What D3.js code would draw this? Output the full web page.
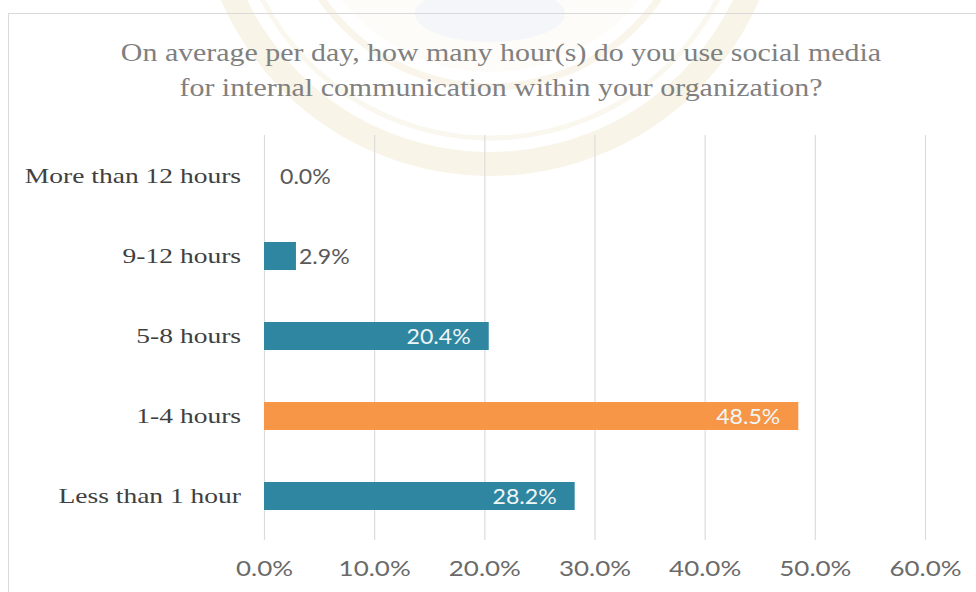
<!DOCTYPE html>
<html>
<head>
<meta charset="utf-8">
<script src="https://cdn.jsdelivr.net/npm/d3@7/dist/d3.min.js"></script>
<style>
  html, body { margin: 0; padding: 0; background: #ffffff; }
  svg { display: block; }
</style>
</head>
<body>
<svg id="chart" width="976" height="592"></svg>
<script>
// Survey answers, top to bottom
const categories = ["More than 12 hours", "9-12 hours", "5-8 hours", "1-4 hours", "Less than 1 hour"];
const shares = [0.0, 2.9, 20.4, 48.5, 28.2];
const highlighted = ["1-4 hours"];
const tickValues = [0, 10, 20, 30, 40, 50, 60];
const titleLines = [
  "On average per day, how many hour(s) do you use social media",
  "for internal communication within your organization?"
];

const W = 976, H = 592;
const svg = d3.select("#chart");

// Widen glyphs horizontally by a factor, keeping their height
function widen(sel, factor) {
  sel.each(function () {
    const len = this.getComputedTextLength();
    d3.select(this).attr("textLength", len * factor).attr("lengthAdjust", "spacingAndGlyphs");
  });
}

// Faint seal in the background
const seal = svg.append("g").attr("transform", "translate(490,-118)").attr("opacity", 0.38);
seal.append("circle").attr("r", 282).attr("fill", "none")
  .attr("stroke", "#eee3c2").attr("stroke-width", 24);
seal.append("circle").attr("r", 256).attr("fill", "none")
  .attr("stroke", "#f3ebd3").attr("stroke-width", 5);
seal.append("circle").attr("r", 205).attr("fill", "none")
  .attr("stroke", "#f0e7cc").attr("stroke-width", 7);
seal.append("circle").attr("r", 190).attr("fill", "#fbf8ee");
seal.append("ellipse").attr("cx", 0).attr("cy", 132).attr("rx", 75).attr("ry", 28)
  .attr("fill", "#e4e9f2");

// Chart panel outline
svg.append("rect").attr("x", 8.5).attr("y", 13.5).attr("width", W + 20).attr("height", H + 20)
  .attr("fill", "none").attr("stroke", "#d9d9d9").attr("stroke-width", 1);

const margin = { left: 264, right: 51, top: 136, bottom: 52 };
const x = d3.scaleLinear().domain([0, 60]).range([margin.left, W - margin.right]);
const y = d3.scaleBand().domain(categories).range([136, 536]).paddingInner(0.65).paddingOuter(0.325);

// Title
const title = svg.append("g")
  .attr("font-family", "'Liberation Serif', 'Times New Roman', serif")
  .attr("font-size", 26)
  .attr("fill", "#808080")
  .attr("text-anchor", "middle");
title.selectAll("text").data(titleLines).join("text")
  .attr("x", 501).attr("y", (d, i) => 61 + i * 35)
  .text(d => d)
  .call(widen, 1.15);

// Vertical gridlines
svg.append("g").selectAll("line").data(tickValues).join("line")
  .attr("x1", d => x(d) + 0.5).attr("x2", d => x(d) + 0.5)
  .attr("y1", 135).attr("y2", 540)
  .attr("stroke", "#dcdcdc").attr("stroke-width", 1.2);

// Bottom axis labels
const xAxis = d3.axisBottom(x).tickValues(tickValues).tickSize(0).tickPadding(0)
  .tickFormat(d => d.toFixed(1) + "%");
const gx = svg.append("g").attr("transform", `translate(0,${H - 16})`).call(xAxis);
gx.select(".domain").remove();
gx.selectAll("text")
  .attr("dy", 0)
  .attr("font-family", "Lato, 'Open Sans', sans-serif")
  .attr("font-size", 22)
  .attr("fill", "#6a6a6a")
  .call(widen, 1.18);

// Category labels
const yAxis = d3.axisLeft(y).tickSize(0).tickPadding(23);
const gy = svg.append("g").attr("transform", `translate(${margin.left},0)`).call(yAxis);
gy.select(".domain").remove();
gy.selectAll("text")
  .attr("font-family", "'Liberation Serif', 'Times New Roman', serif")
  .attr("font-size", 22)
  .attr("fill", "#404040")
  .call(widen, 1.25);

// Bars
svg.append("g").selectAll("rect").data(categories).join("rect")
  .attr("x", x(0))
  .attr("y", d => y(d))
  .attr("width", (d, i) => x(shares[i]) - x(0))
  .attr("height", y.bandwidth())
  .attr("fill", d => highlighted.includes(d) ? "#f79646" : "#2f86a0");

// Value labels: inside long bars, beside short ones
svg.append("g").selectAll("text").data(categories).join("text")
  .attr("font-family", "Lato, 'Open Sans', sans-serif")
  .attr("font-size", 21)
  .each(function (d, i) {
    const v = shares[i];
    const inside = v > 10;
    d3.select(this)
      .attr("x", inside ? x(v) - 18 : x(v) + (v === 0 ? 16 : 3))
      .attr("y", y(d) + y.bandwidth() / 2)
      .attr("dy", "0.36em")
      .attr("text-anchor", inside ? "end" : "start")
      .attr("fill", inside ? "#eef6f8" : "#595959")
      .text(v.toFixed(1) + "%");
  })
  .call(widen, 1.1);
</script>
</body>
</html>
